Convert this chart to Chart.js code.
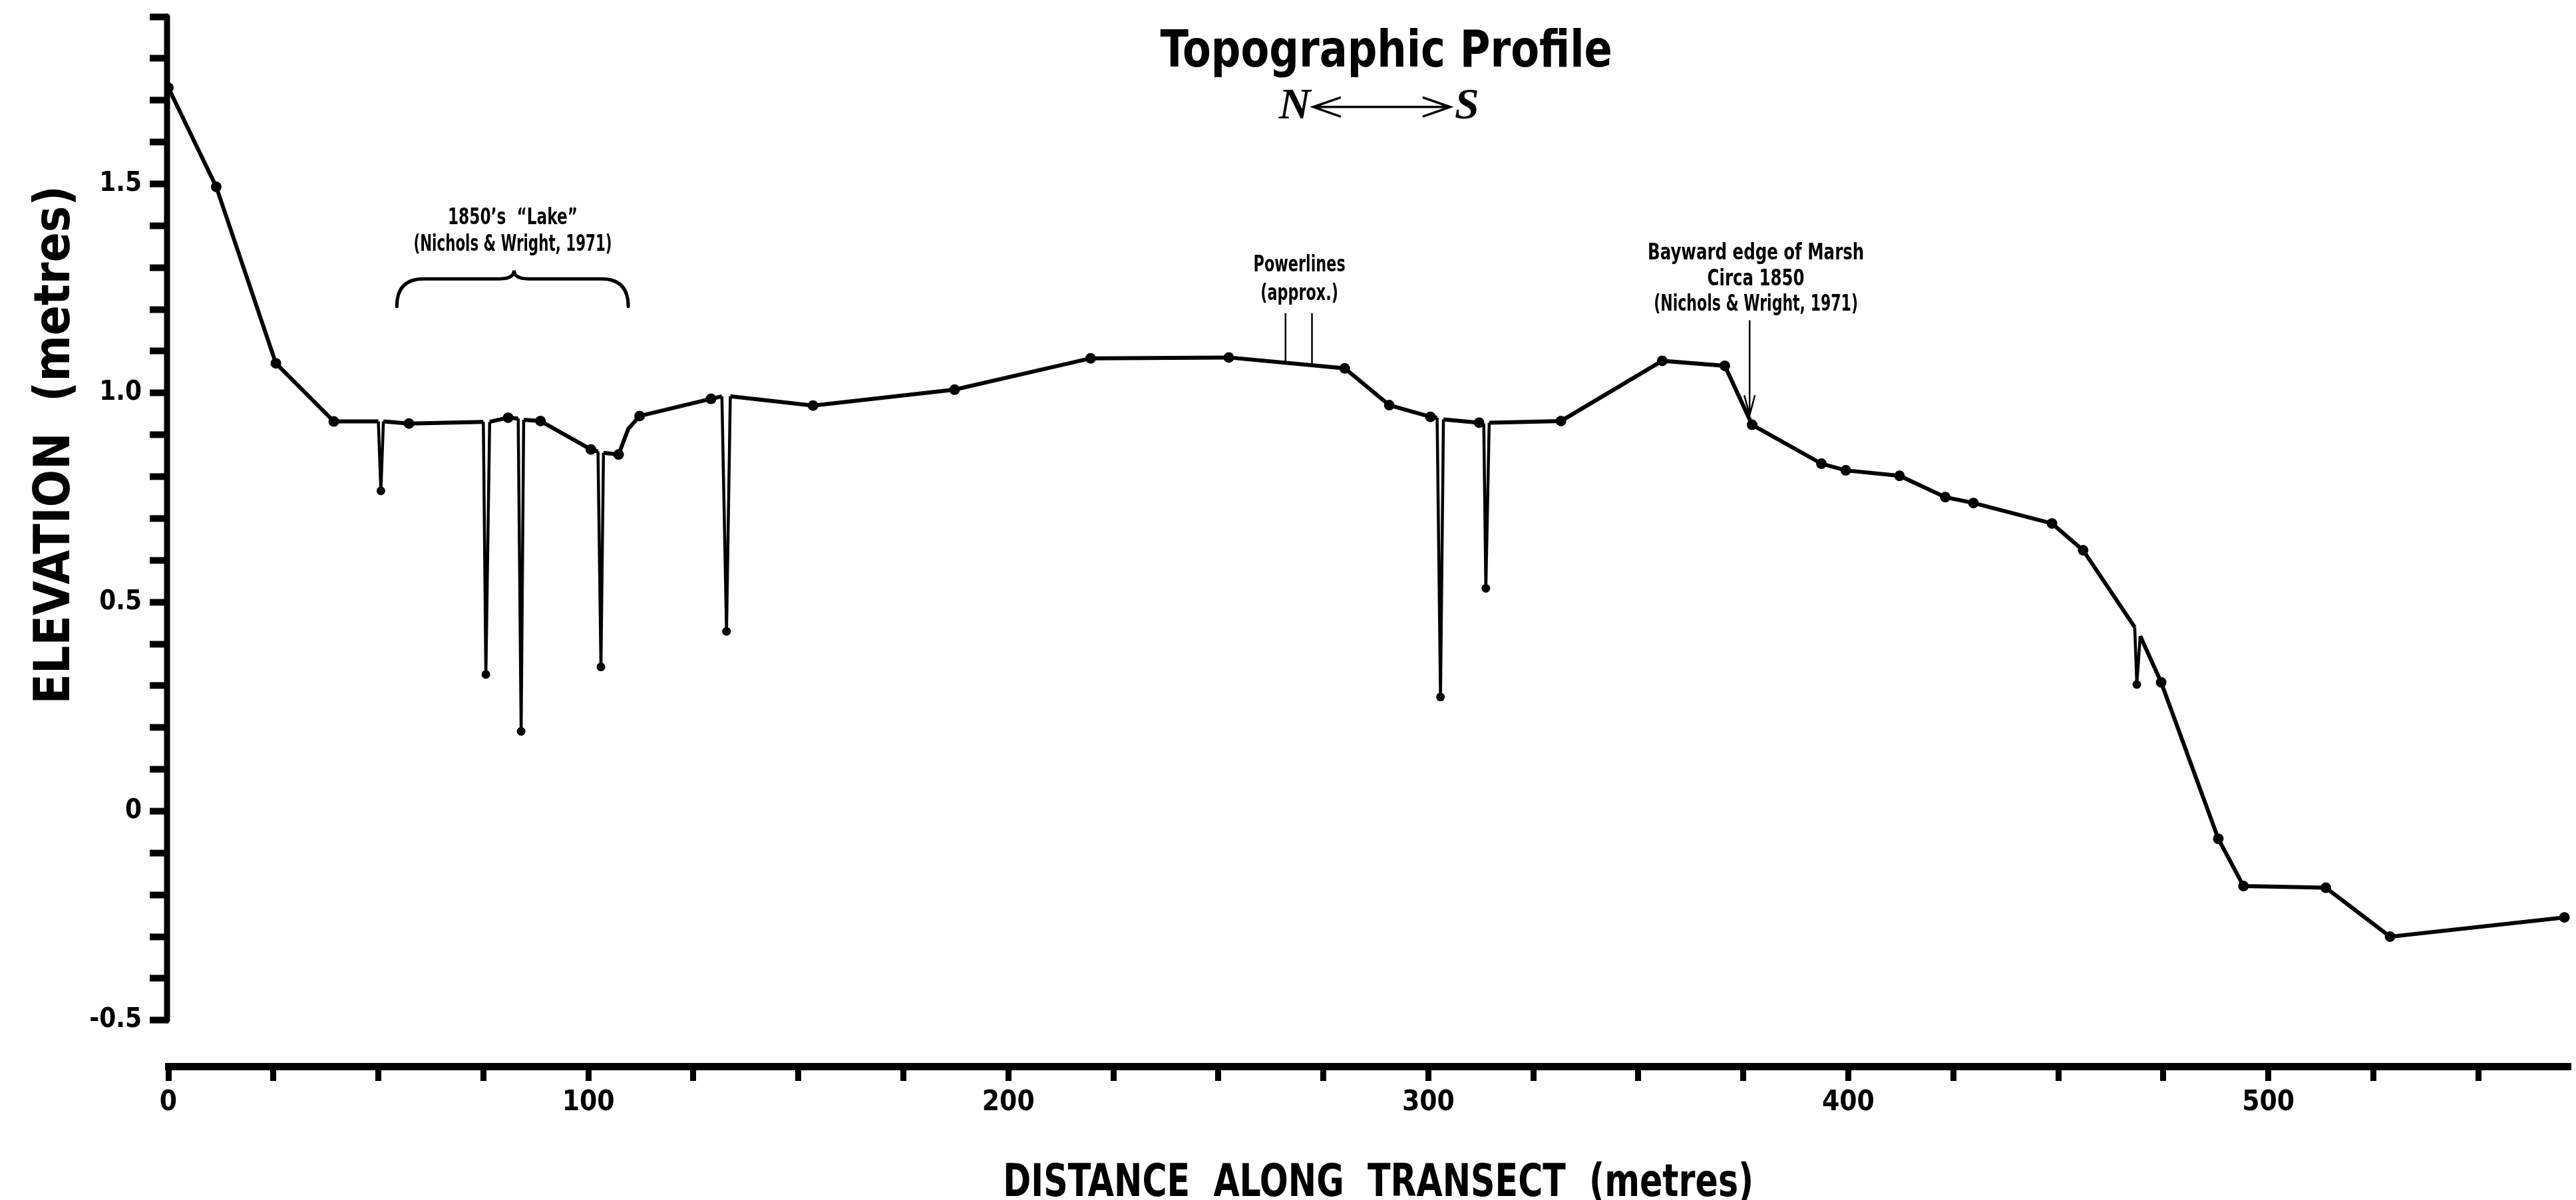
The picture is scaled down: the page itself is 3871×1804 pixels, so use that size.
<!DOCTYPE html>
<html>
<head>
<meta charset="utf-8">
<title>Topographic Profile</title>
<script src="https://cdn.jsdelivr.net/npm/chart.js@4.4.1/dist/chart.umd.min.js"></script>
<style>
    html, body { margin: 0; padding: 0; background: #fff; }
    #wrap { width: 3871px; height: 1804px; position: relative; }
</style>
</head>
<body>
<div id="wrap"><canvas id="profile_chart"></canvas></div>
<script>
// distance along transect (m)
const distance = [
    0, 11.4, 25.6, 39.4, 50.0, 50.6, 51.2, 57.3, 75.0, 75.6,
    76.5, 80.9, 83.3, 84.0, 84.6, 88.6, 100.6, 102.3, 103.0, 103.6,
    107.2, 109.5, 112.2, 129.2, 131.8, 132.9, 133.8, 153.5, 187.2, 219.6,
    252.5, 280.1, 290.7, 300.5, 302.1, 302.9, 303.6, 312.1, 313.2, 313.7,
    314.5, 331.6, 355.7, 370.6, 377.1, 393.6, 399.4, 412.2, 423.1, 429.8,
    448.5, 455.9, 468.2, 468.7, 469.5, 474.5, 488.1, 494.1, 513.7, 529.0,
    570.5
];
// elevation (m)
const elevation = [
    1.73, 1.493, 1.071, 0.932, 0.932, 0.766, 0.932, 0.927, 0.931, 0.327,
    0.931, 0.941, 0.939, 0.191, 0.936, 0.933, 0.865, 0.860, 0.345, 0.857,
    0.853, 0.914, 0.945, 0.986, 0.992, 0.430, 0.992, 0.970, 1.008, 1.083,
    1.085, 1.059, 0.971, 0.943, 0.941, 0.273, 0.937, 0.929, 0.927, 0.533,
    0.929, 0.933, 1.077, 1.065, 0.924, 0.831, 0.815, 0.802, 0.751, 0.737,
    0.688, 0.624, 0.440, 0.303, 0.419, 0.308, -0.066, -0.179, -0.183, -0.300,
    -0.254
];
// 1 = survey station, 2 = bottom of a ditch, 0 = bend in the line only
const kind = [
    1, 1, 1, 1, 0, 2, 0, 1, 0, 2,
    0, 1, 0, 2, 0, 1, 1, 0, 2, 0,
    1, 0, 1, 1, 0, 2, 0, 1, 1, 1,
    1, 1, 1, 1, 0, 2, 0, 1, 0, 2,
    0, 1, 1, 1, 1, 1, 1, 1, 1, 1,
    1, 1, 0, 2, 0, 1, 1, 1, 1, 1,
    1
];

const xTickValues = [0, 25, 50, 75, 100, 125, 150, 175, 200, 225, 250, 275, 300, 325, 350, 375, 400, 425, 450, 475, 500, 525, 550];
const xLabelled = [0, 100, 200, 300, 400, 500];
const xLabelText = ['0', '100', '200', '300', '400', '500'];

const yTickValues = [-0.5, -0.4, -0.3, -0.2, -0.1, 0, 0.1, 0.2, 0.3, 0.4, 0.5, 0.6, 0.7, 0.8, 0.9, 1.0, 1.1, 1.2, 1.3, 1.4, 1.5, 1.6, 1.7, 1.8, 1.9];
const yLabelled = [-0.5, 0, 0.5, 1.0, 1.5];
const yLabelText = ['-0.5', '0', '0.5', '1.0', '1.5'];

const lakeLabel = ['1850\u2019s  \u201CLake\u201D', '(Nichols & Wright, 1971)'];
const powerLabel = ['Powerlines', '(approx.)'];
const marshLabel = ['Bayward edge of Marsh', 'Circa 1850', '(Nichols & Wright, 1971)'];
const powerlineAt = [266, 272.3];
const marshArrowAt = 376.5;

const FONT = "'Liberation Sans Narrow', 'DejaVu Sans Condensed', 'Liberation Sans', sans-serif";

let chart_1;

function labelFor(v, values, texts) {
    for (let i = 0; i < values.length; i++) {
        if (Math.abs(values[i] - v) < 1e-6) return texts[i];
    }
    return '';
}

// elevation of the profile line at distance d
function profileAt(d) {
    for (let i = 0; i < distance.length - 1; i++) {
        if (d >= distance[i] && d <= distance[i + 1]) {
            const t = (d - distance[i]) / (distance[i + 1] - distance[i]);
            return elevation[i] + t * (elevation[i + 1] - elevation[i]);
        }
    }
    return elevation[elevation.length - 1];
}

// the hand lettering is narrow, so squeeze the text sideways
function squeezeText(ctx, text, x, y, sx, rot) {
    ctx.save();
    ctx.translate(x, y);
    if (rot) ctx.rotate(rot);
    ctx.scale(sx, 1);
    ctx.fillText(text, 0, 0);
    ctx.restore();
}

const annotations = {
    id: 'annotations',
    afterDraw(chart) {
        const ctx = chart.ctx;
        const x = chart.scales.x;
        const y = chart.scales.y;
        const px = d => x.getPixelForValue(d);
        const py = v => y.getPixelForValue(v);

        ctx.save();
        ctx.strokeStyle = '#000';
        ctx.fillStyle = '#000';

        // y axis line (stops at -0.5, apart from the x axis)
        ctx.lineWidth = 9;
        ctx.lineCap = 'round';
        ctx.beginPath();
        ctx.moveTo(px(0) - 2, py(-0.5));
        ctx.lineTo(px(0) - 2, py(1.9));
        ctx.stroke();

        // axis titles
        ctx.textAlign = 'center';
        ctx.textBaseline = 'alphabetic';
        ctx.font = `bold 67px ${FONT}`;
        squeezeText(ctx, 'DISTANCE  ALONG  TRANSECT  (metres)', px(288.1), x.bottom - 6, 0.84);
        ctx.font = `bold 74px ${FONT}`;
        squeezeText(ctx, 'ELEVATION  (metres)', 104, py(0.876), 1, -Math.PI / 2);

        // title
        ctx.font = `bold 77px ${FONT}`;
        squeezeText(ctx, 'Topographic Profile', px(290), py(1.781), 0.9);

        ctx.textBaseline = 'middle';

        // N <-> S
        ctx.font = "italic bold 66px 'Liberation Serif', 'DejaVu Serif', serif";
        ctx.fillText('N', px(268.2), py(1.684));
        ctx.fillText('S', px(309.2), py(1.684));
        ctx.lineWidth = 3.5;
        ctx.lineCap = 'round';
        const a0 = px(272.6), a1 = px(305.2), ay = py(1.684);
        ctx.beginPath();
        ctx.moveTo(a0, ay); ctx.lineTo(a1, ay);
        ctx.moveTo(a0 + 40, ay - 14); ctx.lineTo(a0, ay); ctx.lineTo(a0 + 40, ay + 14);
        ctx.moveTo(a1 - 40, ay - 14); ctx.lineTo(a1, ay); ctx.lineTo(a1 - 40, ay + 14);
        ctx.stroke();

        // 1850's lake
        ctx.font = `bold 34px ${FONT}`;
        squeezeText(ctx, lakeLabel[0], px(82), py(1.418), 0.76);
        squeezeText(ctx, lakeLabel[1], px(82), py(1.354), 0.7);
        const bl = px(54.4), br = px(109.5), bm = px(82.3);
        const yEnd = py(1.207), yFlat = py(1.273), yTip = py(1.293);
        ctx.lineWidth = 5;
        ctx.beginPath();
        ctx.moveTo(bl, yEnd);
        ctx.quadraticCurveTo(bl, yFlat, bl + 40, yFlat);
        ctx.lineTo(bm - 22, yFlat);
        ctx.quadraticCurveTo(bm, yFlat, bm, yTip);
        ctx.quadraticCurveTo(bm, yFlat, bm + 22, yFlat);
        ctx.lineTo(br - 40, yFlat);
        ctx.quadraticCurveTo(br, yFlat, br, yEnd);
        ctx.stroke();

        // powerlines
        squeezeText(ctx, powerLabel[0], px(269.3), py(1.305), 0.73);
        squeezeText(ctx, powerLabel[1], px(269.3), py(1.236), 0.73);
        ctx.lineWidth = 2.5;
        ctx.lineCap = 'butt';
        ctx.beginPath();
        for (const d of powerlineAt) {
            ctx.moveTo(px(d), py(1.191));
            ctx.lineTo(px(d), py(profileAt(d)));
        }
        ctx.stroke();

        // bayward edge of marsh
        squeezeText(ctx, marshLabel[0], px(378), py(1.333), 0.8);
        squeezeText(ctx, marshLabel[1], px(378), py(1.272), 0.8);
        squeezeText(ctx, marshLabel[2], px(378), py(1.211), 0.72);
        const mx = px(marshArrowAt), my = py(0.947);
        ctx.lineWidth = 2.5;
        ctx.beginPath();
        ctx.moveTo(mx, py(1.174)); ctx.lineTo(mx, my);
        ctx.moveTo(mx - 8, my - 30); ctx.lineTo(mx, my); ctx.lineTo(mx + 8, my - 30);
        ctx.stroke();

        ctx.restore();
    }
};

window.addEventListener('load', function () {
    chart_1 = document.getElementById('profile_chart');

    const points = distance.map((d, i) => ({ x: d, y: elevation[i] }));

    new Chart(chart_1, {
        type: 'line',
        data: {
            datasets: [{
                data: points,
                borderColor: '#000',
                borderWidth: 6,
                tension: 0,
                pointRadius: kind.map(k => k === 1 ? 8 : (k === 2 ? 6.5 : 0)),
                pointBackgroundColor: '#000',
                pointBorderWidth: 0,
                pointHoverRadius: 0,
                segment: {
                    // ditch walls are drawn a little thinner
                    borderWidth: ctx => (kind[ctx.p0DataIndex] === 2 || kind[ctx.p1DataIndex] === 2) ? 4.5 : 6
                }
            }]
        },
        options: {
            responsive: true,
            maintainAspectRatio: false,
            animation: false,
            events: [],
            layout: { padding: { top: 25, right: 0, bottom: 0, left: 0 } },
            plugins: {
                legend: { display: false },
                tooltip: { enabled: false }
            },
            scales: {
                x: {
                    type: 'linear',
                    min: 0,
                    max: 572,
                    afterBuildTicks: s => { s.ticks = xTickValues.map(v => ({ value: v })); },
                    afterFit: s => { s.height = 201; s.paddingLeft = 0; s.paddingRight = 0; },
                    border: { display: true, color: '#000', width: 11 },
                    grid: { drawOnChartArea: false, drawTicks: true, tickLength: 22, tickWidth: 9, tickColor: '#000' },
                    ticks: {
                        autoSkip: false,
                        maxRotation: 0,
                        padding: 8,
                        color: '#000',
                        font: { family: FONT, weight: 'bold', size: 42 },
                        callback: v => labelFor(v, xLabelled, xLabelText)
                    }
                },
                y: {
                    type: 'linear',
                    min: -0.61,
                    max: 1.9,
                    afterBuildTicks: s => { s.ticks = yTickValues.map(v => ({ value: v })); },
                    afterFit: s => { s.width = 253; s.paddingTop = 0; s.paddingBottom = 0; },
                    border: { display: false },
                    grid: { drawOnChartArea: false, drawTicks: true, tickLength: 28, tickWidth: 10, tickColor: '#000' },
                    ticks: {
                        padding: 12,
                        color: '#000',
                        font: { family: FONT, weight: 'bold', size: 40 },
                        callback: v => labelFor(v, yLabelled, yLabelText)
                    }
                }
            }
        },
        plugins: [annotations]
    });
});
</script>
</body>
</html>
